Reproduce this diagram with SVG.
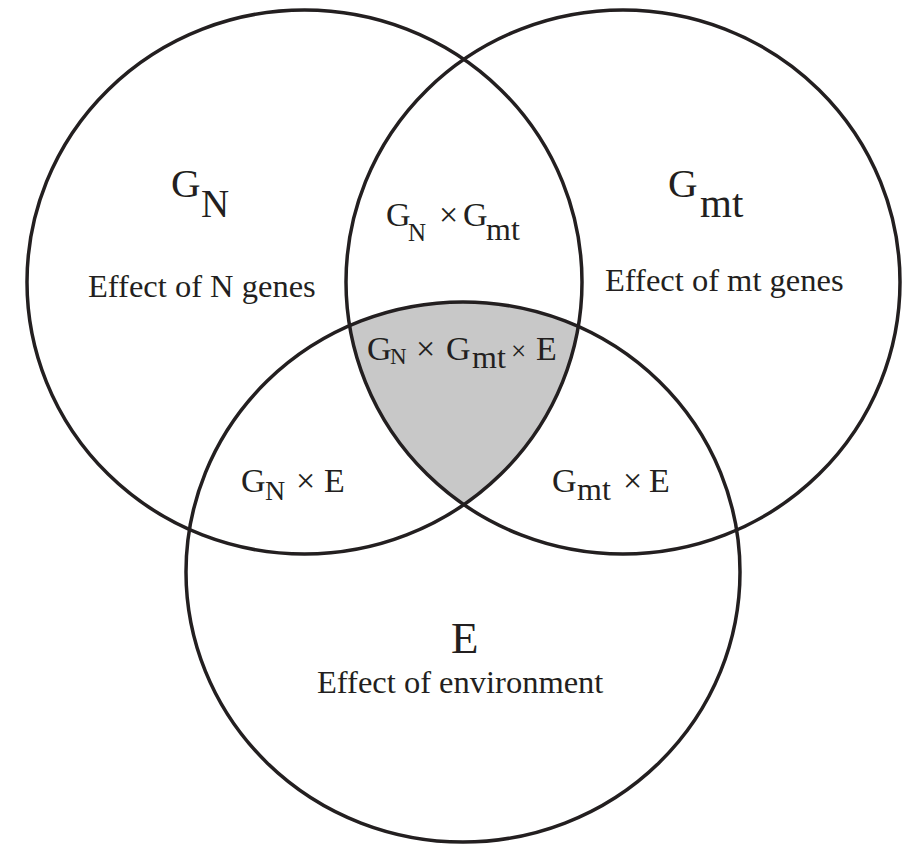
<svg xmlns="http://www.w3.org/2000/svg" width="904" height="845" viewBox="0 0 904 845">
<style>
.c{fill:none;stroke:#231f20;stroke-width:3.5}
text{font-family:"Liberation Serif","Times New Roman",serif;fill:#231f20}
.lab{font-size:32.5px}
.big{font-size:41px}
.mid{font-size:34px}
.sub{font-size:32px}
</style>
<defs>
<clipPath id="clipE"><ellipse cx="463" cy="572" rx="277" ry="270"/></clipPath>
<clipPath id="clipL"><ellipse cx="304.5" cy="282" rx="277.5" ry="272"/></clipPath>
</defs>
<rect width="904" height="845" fill="#ffffff"/>
<g id="shade" clip-path="url(#clipL)">
<ellipse cx="623" cy="282" rx="277" ry="272" fill="#c8c8c8" clip-path="url(#clipE)"/>
</g>
<g id="circles">
<ellipse id="circleN" class="c" cx="304.5" cy="282" rx="277.5" ry="272"/>
<ellipse id="circleMt" class="c" cx="623" cy="282" rx="277" ry="272"/>
<ellipse id="circleE" class="c" cx="463" cy="572" rx="277" ry="270"/>
</g>
<g id="labelGN">
<text class="big" x="171" y="197">G</text>
<text x="201" y="217" style="font-size:39px">N</text>
<text class="lab" x="88" y="297">Effect of N genes</text>
</g>
<g id="labelGmt">
<text class="big" x="668" y="197">G</text>
<text x="700" y="217" style="font-size:41px">mt</text>
<text class="lab" x="605" y="291">Effect of mt genes</text>
</g>
<g id="labelE">
<text x="451" y="653" style="font-size:45px">E</text>
<text class="lab" x="317" y="693">Effect of environment</text>
</g>
<g id="labelGNxGmt">
<text class="mid" x="386" y="226">G</text>
<text x="408" y="241" style="font-size:25px">N</text>
<text class="mid" x="439" y="226">×</text>
<text class="mid" x="463" y="226">G</text>
<text class="sub" x="486" y="240">mt</text>
</g>
<g id="labelGNxGmtxE">
<text class="mid" x="367" y="360">G</text>
<text x="390" y="364" style="font-size:23px">N</text>
<text class="mid" x="416" y="360">×</text>
<text class="mid" x="446" y="360">G</text>
<text class="sub" x="472" y="368">mt</text>
<text x="511" y="360" style="font-size:27px">×</text>
<text class="mid" x="536" y="360">E</text>
</g>
<g id="labelGNxE">
<text class="mid" x="241" y="492">G</text>
<text x="265" y="500" style="font-size:28px">N</text>
<text class="mid" x="296" y="492">×</text>
<text class="mid" x="324" y="492">E</text>
</g>
<g id="labelGmtxE">
<text class="mid" x="552" y="492">G</text>
<text class="sub" x="577" y="500">mt</text>
<text class="mid" x="623" y="492">×</text>
<text class="mid" x="649" y="492">E</text>
</g>
</svg>
